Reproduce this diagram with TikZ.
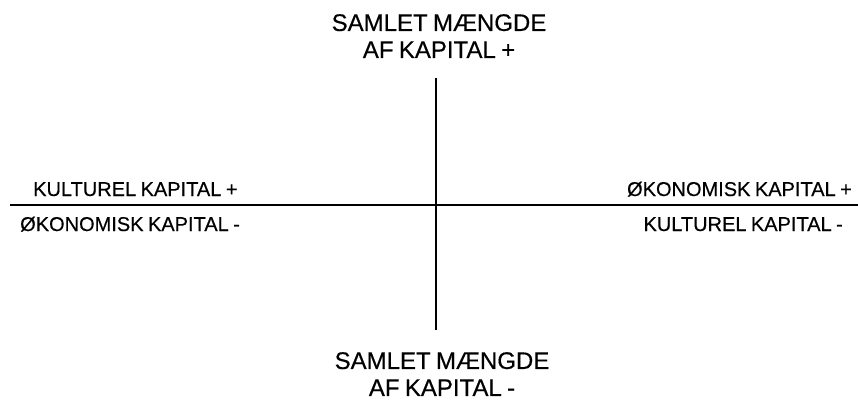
\documentclass[tikz,border=0pt]{standalone}
\usepackage{fontspec}
\setmainfont{Liberation Sans}
\newfontfamily\labelfont[FakeBold=0.4,WordSpace=0.8]{Liberation Sans}
\begin{document}
\begin{tikzpicture}[x=1pt,y=-1pt,
  axis/.style={line width=1.6pt,black},
  biglabel/.style={inner sep=0pt,align=center,font=\labelfont\fontsize{24}{27}\selectfont},
  sidelabel/.style={inner sep=0pt,font=\labelfont\fontsize{20}{24}\selectfont}]
\useasboundingbox (0,0) rectangle (858,402);
\node[biglabel,anchor=north] (top) at (439,14) {SAMLET MÆNGDE\\AF KAPITAL +};
\node[biglabel,anchor=north] (bot) at (442,352) {SAMLET MÆNGDE\\AF KAPITAL -};
\node[sidelabel,anchor=base west] (kp) at (33,196) {KULTUREL KAPITAL +};
\node[sidelabel,anchor=base west] (om) at (20,231) {ØKONOMISK KAPITAL -};
\node[sidelabel,anchor=base east] (op) at (852,196) {ØKONOMISK KAPITAL +};
\node[sidelabel,anchor=base east] (km) at (843,231) {KULTUREL KAPITAL -};
\coordinate (vt) at (436,78);
\coordinate (vb) at (436,330);
\coordinate (hl) at (10,205);
\coordinate (hr) at (858,205);
\draw[axis] (vt) -- (vb);
\draw[axis] (hl) -- (hr);
\end{tikzpicture}
\end{document}
